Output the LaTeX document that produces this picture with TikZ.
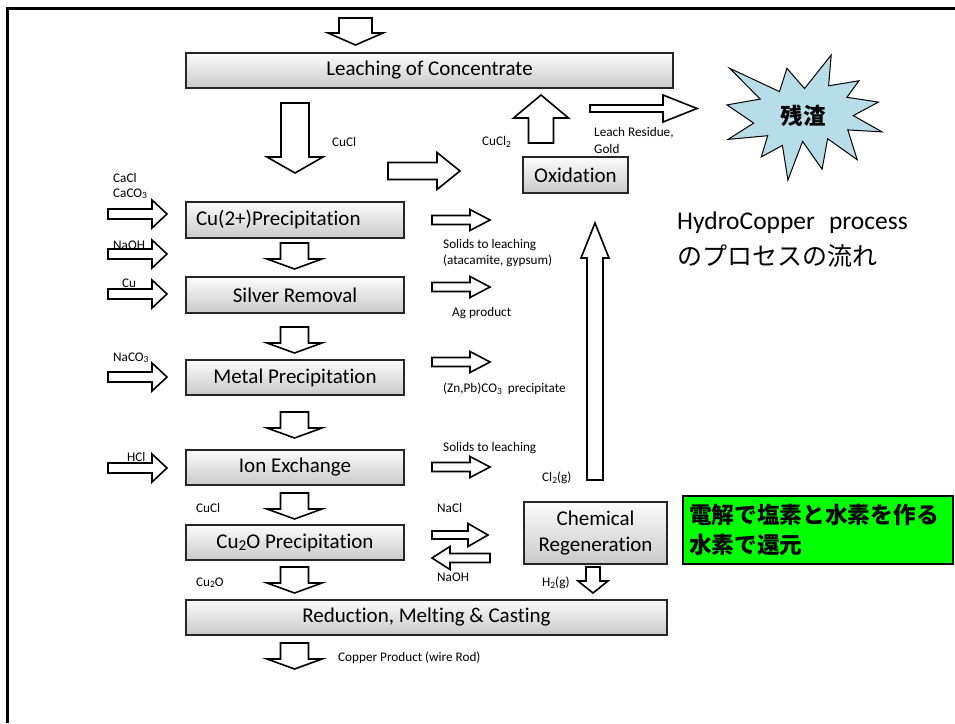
\documentclass[tikz,border=0pt]{standalone}
\usepackage{fontspec}
\usepackage{graphicx}
\setmainfont{Carlito}[Ligatures=NoCommon]
\newfontfamily\jp{Noto Sans CJK JP}
\newcommand\sbs[1]{\raisebox{-0.1em}{\scalebox{0.72}{#1}}}
\definecolor{burstblue}{RGB}{183,222,232}
\definecolor{hlgreen}{RGB}{0,255,0}
\tikzset{
  procbox/.style={draw=black!85, line width=1.2pt, top color=gray!3, bottom color=gray!42,
    inner sep=0pt, align=center, font=\fontsize{21}{26}\selectfont},
  lbl/.style={anchor=west, inner sep=0pt, font=\fontsize{13.2}{15}\selectfont},
  blockarrow/.style={draw=black, fill=white, line width=1.6pt, line join=miter},
  burst/.style={draw=black, fill=burstblue, line width=1pt, line join=miter},
}
% centre x, centre y, rotation, length, shaft width, head width, head length
\newcommand\barrow[7]{%
  \begin{scope}[shift={(#1,#2)}, rotate=#3]
    \draw[blockarrow] (-#4/2,-#5/2) -- ({#4/2-#7},-#5/2) -- ({#4/2-#7},-#6/2) -- (#4/2,0)
      -- ({#4/2-#7},#6/2) -- ({#4/2-#7},#5/2) -- (-#4/2,#5/2) -- cycle;
  \end{scope}}
\begin{document}
\begin{tikzpicture}[x=1pt,y=-1pt]
\useasboundingbox (0,0) rectangle (955,723);
% frame
\draw[line width=3pt] (7.5,723) -- (7.5,8.7) -- (955,8.7);

% process boxes
\node[procbox, minimum width=487, minimum height=35] (leach) at (429.5,70.5) {Leaching of Concentrate};
\node[procbox, minimum width=105, minimum height=36] (oxid) at (575.5,175) {Oxidation};
\node[procbox, minimum width=218, minimum height=36, text width=198, align=left] (cup) at (295,220) {Cu(2+)Precipitation};
\node[procbox, minimum width=218, minimum height=36] (silver) at (295,295) {Silver Removal};
\node[procbox, minimum width=218, minimum height=35] (metal) at (295,377.5) {Metal Precipitation};
\node[procbox, minimum width=218, minimum height=35] (ion) at (295,467.5) {Ion Exchange};
\node[procbox, minimum width=218, minimum height=35] (cuo) at (295,542.5) {Cu\sbs{2}O Precipitation};
\node[procbox, minimum width=481, minimum height=35] (red) at (426.5,617.5) {Reduction, Melting \& Casting};
\node[procbox, minimum width=143, minimum height=62] (chem) at (595.5,533) {Chemical\\Regeneration};

% block arrows
\barrow{355.5}{31.5}{-90}{27}{33}{55}{12}
\barrow{295}{138}{-90}{70}{28}{56}{16}
\barrow{424}{171}{0}{72}{17}{37}{23}
\barrow{541}{119}{90}{48}{25}{55}{23}
\barrow{643.5}{108.5}{0}{107}{7}{27}{34}
% left inputs
\barrow{137.5}{214}{0}{59}{10}{28}{15}
\barrow{137.5}{254}{0}{59}{10}{28}{15}
\barrow{137.5}{294}{0}{59}{10}{28}{15}
\barrow{137.5}{377}{0}{59}{10}{28}{15}
\barrow{137.5}{468}{0}{59}{10}{28}{15}
% small down arrows
\barrow{294.5}{256}{-90}{26}{28}{55}{10}
\barrow{294.5}{340}{-90}{26}{28}{55}{10}
\barrow{294.5}{425}{-90}{26}{28}{55}{10}
\barrow{294.5}{506}{-90}{26}{28}{55}{10}
\barrow{294.5}{580}{-90}{26}{28}{55}{10}
\barrow{294.5}{656}{-90}{26}{28}{55}{10}
% right outputs
\barrow{461}{220}{0}{58}{9}{21}{20}
\barrow{461}{287}{0}{58}{9}{21}{20}
\barrow{461}{362}{0}{58}{9}{21}{20}
\barrow{461}{467}{0}{58}{9}{21}{20}
% NaCl / NaOH
\barrow{460}{535}{0}{56}{8}{23}{20}
\barrow{461}{558}{180}{58}{9}{23}{18}
% Cl2 up, H2 down
\barrow{595}{351.5}{90}{257}{16}{28}{35}
\barrow{593}{580}{-90}{26}{14}{30}{12}

% starburst
\draw[burst] (804.5,88.6) -- (831.2,55) -- (828.6,85.8) -- (858.9,80.8) -- (846.9,97.3)
  -- (878.4,102.1) -- (853.3,115.6) -- (882,131.9) -- (847.8,129.9) -- (857.2,159.7)
  -- (827.6,138.7) -- (822.1,169.2) -- (802.6,141.4) -- (787.9,180) -- (782.4,145.4)
  -- (761.2,157) -- (767.7,135.7) -- (728,139.4) -- (753.7,123.1) -- (727,104.9)
  -- (760.2,99.1) -- (729.7,68.3) -- (779.5,91.6) -- (786.9,68.3) -- cycle;
\node[font=\jp\bfseries\fontsize{22.5}{26}\selectfont, inner sep=0pt] (zansa) at (803,116) {残渣};

% titles
\node[anchor=west, inner sep=0pt, font=\fontsize{25.5}{30}\selectfont] (title1) at (677,223) {HydroCopper\hspace{14pt}process};
\node[anchor=west, inner sep=0pt, font=\jp\fontsize{25}{30}\selectfont] (title2) at (677,256) {のプロセスの流れ};
\node[draw=black, line width=1.2pt, fill=hlgreen, minimum width=270, minimum height=68,
  text width=258, inner xsep=6, inner ysep=0, align=left,
  font=\jp\bfseries\fontsize{22.7}{30}\selectfont] (note) at (818,530) {電解で塩素と水素を作る\\水素で還元};

% labels
\node[lbl] (l1) at (332,142) {CuCl};
\node[lbl] (l2) at (482,142) {CuCl\sbs{2}};
\node[lbl] (l3) at (594,133) {Leach Residue,};
\node[lbl] (l4) at (594,149) {Gold};
\node[lbl] (l5) at (113,178) {CaCl};
\node[lbl] (l6) at (113,194) {CaCO\sbs{3}};
\node[lbl] (l7) at (113,245) {NaOH};
\node[lbl] (l8) at (122,283) {Cu};
\node[lbl] (l9) at (113,358) {NaCO\sbs{3}};
\node[lbl] (l10) at (127,457) {HCl};
\node[lbl] (l11) at (443,245) {Solids to leaching};
\node[lbl] (l12) at (443,261) {(atacamite, gypsum)};
\node[lbl] (l13) at (452,313) {Ag product};
\node[lbl] (l14) at (443,389) {(Zn,Pb)CO\sbs{3}\hspace{6pt}precipitate};
\node[lbl] (l15) at (443,448) {Solids to leaching};
\node[lbl] (l16) at (542,478) {Cl\sbs{2}(g)};
\node[lbl] (l17) at (196,508) {CuCl};
\node[lbl] (l18) at (437,508) {NaCl};
\node[lbl] (l19) at (437,577) {NaOH};
\node[lbl] (l20) at (196,583) {Cu\sbs{2}O};
\node[lbl] (l21) at (542,583) {H\sbs{2}(g)};
\node[lbl] (l22) at (338,658) {Copper Product (wire Rod)};
\end{tikzpicture}
\end{document}
